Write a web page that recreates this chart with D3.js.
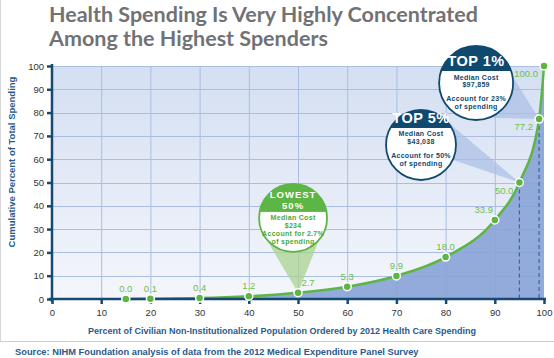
<!DOCTYPE html>
<html><head><meta charset="utf-8">
<script src="https://cdn.jsdelivr.net/npm/d3@7"></script>
<style>
body{margin:0;background:#fff;}
svg{display:block;}
</style></head>
<body>
<svg id="chart" width="554" height="358"></svg>
<script>
// ---- data ----
const popPercent = [15, 20, 30, 40, 50, 60, 70, 80, 90, 95, 99, 100];
const cumSpending = [0.0, 0.1, 0.4, 1.2, 2.7, 5.3, 9.9, 18.0, 33.9, 50.0, 77.2, 100.0];
const valueLabels = ["0.0", "0.1", "0.4", "1.2", "2.7", "5.3", "9.9", "18.0", "33.9", "50.0", "77.2", "100.0"];
const xTicks = [0, 10, 20, 30, 40, 50, 60, 70, 80, 90, 100];
const yTicks = [0, 10, 20, 30, 40, 50, 60, 70, 80, 90, 100];
const dashedAt = [95, 99];
const titleLines = ["Health Spending Is Very Highly Concentrated", "Among the Highest Spenders"];
const yTitle = "Cumulative Percent of Total Spending";
const xTitle = "Percent of Civilian Non-Institutionalized Population Ordered by 2012 Health Care Spending";
const sourceText = "Source: NIHM Foundation analysis of data from the 2012 Medical Expenditure Panel Survey";
const calloutHeads = [["LOWEST", "50%"], ["TOP 5%"], ["TOP 1%"]];
const calloutBodies = [
  ["Median Cost", "$234", "Account for 2.7%", "of spending"],
  ["Median Cost", "$43,038", "", "Account for 50%", "of spending"],
  ["Median Cost", "$97,859", "", "Account for 23%", "of spending"]
];
const calloutTargets = [50, 95, 99];

// ---- layout ----
const svg = d3.select("#chart");
const M = {left: 52, right: 544, top: 66, bottom: 299};
const x = d3.scaleLinear().domain([0, 100]).range([M.left, M.right]);
const y = d3.scaleLinear().domain([0, 100]).range([M.bottom, M.top]);
const navy = "#174a72";
const green = "#5cb545";
const labelGreen = "#6cc04a";
const sans = "'Liberation Sans', Arial, sans-serif";

// background gradient
const defs = svg.append("defs");
const grad = defs.append("linearGradient").attr("id", "bg").attr("x1", 0).attr("y1", 0).attr("x2", 0).attr("y2", 1);
grad.append("stop").attr("offset", "0%").attr("stop-color", "#d4dff2");
grad.append("stop").attr("offset", "100%").attr("stop-color", "#f4f6fb");

// frame lines
svg.append("line").attr("x1", 0.5).attr("x2", 0.5).attr("y1", 0).attr("y2", 341.5).attr("stroke", "#d8d8d8");
svg.append("line").attr("x1", 0).attr("x2", 554).attr("y1", 341.5).attr("y2", 341.5).attr("stroke", "#cfcfcf");

// title
svg.append("g").selectAll("text").data(titleLines).join("text")
  .attr("x", 49).attr("y", (d, i) => 22 + i * 24)
  .attr("font-family", "Lato, 'Open Sans', sans-serif").attr("font-weight", 700)
  .attr("font-size", 21.5).attr("fill", "#717275").text(d => d);

// plot bg
svg.append("rect").attr("x", x(0)).attr("y", y(100)).attr("width", x(100) - x(0)).attr("height", y(0) - y(100)).attr("fill", "url(#bg)");

// grid
const grid = svg.append("g").attr("stroke", "#aabde3").attr("stroke-width", 1);
grid.selectAll(".gx").data(xTicks.filter(d => d > 0 && d < 100)).join("line")
  .attr("x1", d => x(d) + 0.5).attr("x2", d => x(d) + 0.5).attr("y1", y(100)).attr("y2", y(0));
grid.selectAll(".gy").data(yTicks.filter(d => d > 0)).join("line")
  .attr("y1", d => Math.round(y(d)) + 0.5).attr("y2", d => Math.round(y(d)) + 0.5).attr("x1", x(0)).attr("x2", x(100));

const pts = popPercent.map((p, i) => [p, cumSpending[i]]);

// area
const area = d3.area().x(d => x(d[0])).y0(y(0)).y1(d => y(d[1])).curve(d3.curveMonotoneX);
svg.append("path").datum(pts).attr("d", area).attr("fill", "#88a3d7").attr("opacity", 0.9);

// dashed lines
svg.append("g").selectAll("line").data(dashedAt).join("line")
  .attr("x1", d => x(d)).attr("x2", d => x(d))
  .attr("y1", d => y(cumSpending[popPercent.indexOf(d)])).attr("y2", y(0))
  .attr("stroke", "#3566a8").attr("stroke-width", 1.2).attr("stroke-dasharray", "4,3");

// callout wedges
const calloutPos = [
  {cx: 49.0, cy: 34.8, r: 34, a1: 143, a2: 40, fill: "#a9d38f", op: 0.75},
  {cx: 75.0, cy: 66.1, r: 35, a1: -44, a2: 25, fill: "#a9bde6", op: 0.7},
  {cx: 86.2, cy: 92.7, r: 37, a1: -52, a2: 70, fill: "#a9bde6", op: 0.7}
];
calloutPos.forEach((c, i) => {
  const cxp = x(c.cx), cyp = y(c.cy);
  const t = calloutTargets[i];
  const tx = x(t), ty = y(cumSpending[popPercent.indexOf(t)]);
  const p1 = [cxp + c.r * Math.cos(c.a1 * Math.PI / 180), cyp + c.r * Math.sin(c.a1 * Math.PI / 180)];
  const p2 = [cxp + c.r * Math.cos(c.a2 * Math.PI / 180), cyp + c.r * Math.sin(c.a2 * Math.PI / 180)];
  svg.append("path").attr("d", `M${p1}L${tx},${ty}L${p2}Z`).attr("fill", c.fill).attr("opacity", c.op);
});

// line
const line = d3.line().x(d => x(d[0])).y(d => y(d[1])).curve(d3.curveMonotoneX);
svg.append("path").datum(pts).attr("d", line).attr("fill", "none").attr("stroke", green).attr("stroke-width", 2.5);

// axes
const xAxis = svg.append("g").attr("transform", `translate(0,${y(0)})`)
  .call(d3.axisBottom(x).tickValues(xTicks).tickSize(5).tickPadding(5).tickFormat(d3.format("d")));
const yAxis = svg.append("g").attr("transform", `translate(${x(0)},0)`)
  .call(d3.axisLeft(y).tickValues(yTicks).tickSize(5).tickPadding(3).tickFormat(d3.format("d")));
[xAxis, yAxis].forEach(g => {
  g.select(".domain").attr("stroke", navy).attr("stroke-width", 2.5);
  g.selectAll(".tick line").attr("stroke", navy).attr("stroke-width", 2.5);
  g.selectAll(".tick text").attr("fill", "#333").attr("font-size", 9.5).attr("font-family", sans);
});
xAxis.select(".domain").attr("d", `M${x(0) - 3},0H${x(100) + 2}`);
yAxis.select(".domain").attr("d", `M0,${y(100) - 2}V${y(0) + 3}`);

// points
svg.append("g").selectAll("circle").data(pts).join("circle")
  .attr("cx", d => x(d[0])).attr("cy", d => y(d[1])).attr("r", 4)
  .attr("fill", green).attr("stroke", "#fff").attr("stroke-width", 1.5);

// point labels
svg.append("g").selectAll("text").data(pts).join("text")
  .attr("x", d => x(d[0]) + (d[0] >= 95 ? -6 : d[0] === 50 ? 10 : d[0] === 90 ? -11 : 0))
  .attr("y", d => y(d[1]) + (d[0] >= 95 ? 11 : -7))
  .attr("text-anchor", d => d[0] >= 95 ? "end" : "middle")
  .attr("fill", labelGreen).attr("font-size", 9.5).attr("font-family", sans)
  .text((d, i) => valueLabels[i]);

// callout circles
const calloutStyle = [
  {head: "#5cb545", body: "#4da83a", border: "#5cb545", capH: 28, headSize: 12},
  {head: "#0f4a6e", body: "#0f4a6e", border: "#0f4a6e", capH: 18, headSize: 14.5},
  {head: "#0f4a6e", body: "#0f4a6e", border: "#0f4a6e", capH: 25, headSize: 14.5}
];
calloutPos.forEach((c, i) => {
  const st = calloutStyle[i];
  const cxp = x(c.cx), cyp = y(c.cy);
  const g = svg.append("g");
  const cid = "clip" + i;
  defs.append("clipPath").attr("id", cid).append("circle").attr("cx", cxp).attr("cy", cyp).attr("r", c.r);
  g.append("circle").attr("cx", cxp).attr("cy", cyp).attr("r", c.r).attr("fill", "#fff");
  g.append("rect").attr("clip-path", `url(#${cid})`).attr("x", cxp - c.r).attr("y", cyp - c.r)
    .attr("width", 2 * c.r).attr("height", st.capH).attr("fill", st.head);
  g.append("circle").attr("cx", cxp).attr("cy", cyp).attr("r", c.r).attr("fill", "none")
    .attr("stroke", st.border).attr("stroke-width", 1.8);
  const heads = calloutHeads[i];
  const top = cyp - c.r;
  heads.forEach((h, j) => {
    g.append("text").attr("x", cxp).attr("text-anchor", "middle")
      .attr("y", heads.length === 2 ? top + 14.5 + j * 11 : top + st.capH - 5)
      .attr("fill", "#fff").attr("font-weight", 700).attr("font-size", heads.length === 2 ? 9.5 : st.headSize)
      .attr("font-family", sans).attr("letter-spacing", heads.length === 2 ? 1 : 0.5).text(h);
  });
  const body = calloutBodies[i];
  const lh = i === 0 ? 7.8 : 7.3;
  body.forEach((b, j) => {
    if (!b) return;
    g.append("text").attr("x", cxp).attr("text-anchor", "middle")
      .attr("y", top + st.capH + 8.5 + j * lh)
      .attr("fill", st.body).attr("font-weight", 700).attr("font-size", 7)
      .attr("letter-spacing", 0.3)
      .attr("font-family", sans).text(b);
  });
});

// axis titles
svg.append("text").attr("transform", "translate(15,162) rotate(-90)").attr("text-anchor", "middle")
  .attr("fill", "#2b5a8c").attr("font-weight", 700).attr("font-size", 9.5)
  .attr("font-family", sans).text(yTitle);
svg.append("text").attr("x", 282).attr("y", 334).attr("text-anchor", "middle")
  .attr("fill", "#2b5a8c").attr("font-weight", 700).attr("font-size", 9)
  .attr("font-family", sans).text(xTitle);
svg.append("text").attr("x", 15).attr("y", 355)
  .attr("fill", "#2b5a8c").attr("font-weight", 700).attr("font-size", 9.3)
  .attr("font-family", sans).text(sourceText);
</script>
</body></html>
